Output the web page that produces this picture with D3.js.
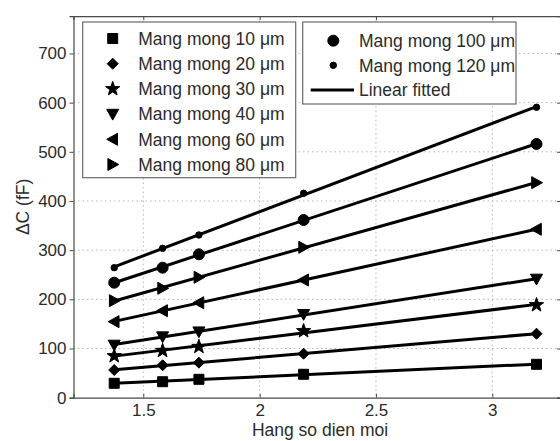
<!DOCTYPE html>
<html>
<head>
<meta charset="utf-8">
<script src="https://cdn.jsdelivr.net/npm/d3@7"></script>
<style>
  html, body { margin: 0; padding: 0; background: #fff; }
  svg { display: block; }
  text { font-family: "Liberation Sans", Arial, sans-serif; fill: #2b2b2b; }
</style>
</head>
<body>
<svg id="chart" width="560" height="441"></svg>
<script>
// Dielectric constant of the medium (x) and capacitance change per membrane thickness
const dielectric = [1.375, 1.583, 1.739, 2.189, 3.19];
const seriesNames = ["Mang mong 10 \u03bcm", "Mang mong 20 \u03bcm", "Mang mong 30 \u03bcm",
  "Mang mong 40 \u03bcm", "Mang mong 60 \u03bcm", "Mang mong 80 \u03bcm",
  "Mang mong 100 \u03bcm", "Mang mong 120 \u03bcm"];
const markers = ["square", "diamond", "star", "triDown", "triLeft", "triRight", "circle", "dot"];
const m10  = [29.3, 32.5, 37.4, 47.6, 67.9];
const m20  = [56.3, 65.9, 71.2, 89.5, 130.2];
const m30  = [84.8, 95.6, 103.7, 135.7, 188.5];
const m40  = [107.2, 124.1, 134.2, 169.6, 241.4];
const m60  = [154.6, 176.9, 193.2, 239.4, 342.5];
const m80  = [197.3, 222.5, 244.9, 305.9, 437.3];
const m100 = [233.9, 264.4, 291.6, 361.4, 516.0];
const m120 = [264.4, 303.8, 330.9, 415.7, 590.6];
const seriesValues = [m10, m20, m30, m40, m60, m80, m100, m120];
const xTicks = [1.5, 2, 2.5, 3];
const yTicks = [0, 100, 200, 300, 400, 500, 600, 700];
const xLabel = "Hang so dien moi";
const yLabel = "\u0394C (fF)";
const fitLabel = "Linear fitted";

const svg = d3.select("#chart");
const x = d3.scaleLinear().domain([1.2, 3.3]).range([73.5, 562.1]);
const y = d3.scaleLinear().domain([0, 776]).range([397.7, 16.1]);
const [x0, x1] = x.range();
const [yb, yt] = y.range();

// marker shapes
function markerPath(type, cx, cy) {
  const p = d3.path();
  if (type === "square") {
    const s = 5; p.rect(cx - s, cy - s, 2 * s, 2 * s);
  } else if (type === "diamond") {
    const s = 5.5; p.moveTo(cx, cy - s); p.lineTo(cx + s, cy); p.lineTo(cx, cy + s); p.lineTo(cx - s, cy); p.closePath();
  } else if (type === "star") {
    const R = 7.5, r = 3;
    for (let i = 0; i < 10; i++) {
      const a = -Math.PI / 2 + i * Math.PI / 5;
      const rr = i % 2 === 0 ? R : r;
      const px = cx + rr * Math.cos(a), py = cy + rr * Math.sin(a);
      i === 0 ? p.moveTo(px, py) : p.lineTo(px, py);
    }
    p.closePath();
  } else if (type === "triDown") {
    const s = 6; p.moveTo(cx - s, cy - s * 0.8); p.lineTo(cx + s, cy - s * 0.8); p.lineTo(cx, cy + s); p.closePath();
  } else if (type === "triLeft") {
    const s = 6; p.moveTo(cx + s * 0.8, cy - s); p.lineTo(cx + s * 0.8, cy + s); p.lineTo(cx - s, cy); p.closePath();
  } else if (type === "triRight") {
    const s = 6; p.moveTo(cx - s * 0.8, cy - s); p.lineTo(cx - s * 0.8, cy + s); p.lineTo(cx + s, cy); p.closePath();
  } else if (type === "circle") {
    p.arc(cx, cy, 5.5, 0, 2 * Math.PI);
  } else if (type === "dot") {
    p.arc(cx, cy, 3.2, 0, 2 * Math.PI);
  }
  return p.toString();
}

// grid
const grid = svg.append("g").attr("stroke", "#b5b5b5").attr("stroke-width", 1).attr("stroke-dasharray", "1.5,3");
grid.selectAll("line.gx").data(xTicks).join("line")
  .attr("x1", d => x(d)).attr("x2", d => x(d)).attr("y1", yt).attr("y2", yb);
grid.selectAll("line.gy").data(yTicks.filter(d => d > 0)).join("line")
  .attr("x1", x0).attr("x2", x1).attr("y1", d => y(d)).attr("y2", d => y(d));

// axes
const axisColor = "#4a4a4a";
const gx = svg.append("g").attr("transform", `translate(0,${yb})`)
  .call(d3.axisBottom(x).tickValues(xTicks).tickSize(-4).tickPadding(6.5).tickFormat(d3.format("")));
const gy = svg.append("g").attr("transform", `translate(${x0},0)`)
  .call(d3.axisLeft(y).tickValues(yTicks).tickSize(4).tickPadding(3));
const gxt = svg.append("g").attr("transform", `translate(0,${yt})`)
  .call(d3.axisTop(x).tickValues(xTicks).tickSize(-4).tickFormat(""));
const gyr = svg.append("g").attr("transform", `translate(${x1},0)`)
  .call(d3.axisRight(y).tickValues(yTicks).tickSize(-5).tickFormat(""));
[gx, gy, gxt, gyr].forEach(g => {
  g.selectAll("path.domain").attr("stroke", axisColor).attr("stroke-width", 1.2);
  g.selectAll(".tick line").attr("stroke", axisColor);
  g.selectAll("text").style("font-size", "17px").attr("fill", "#2b2b2b")
    .style("font-family", "'Liberation Sans', Arial, sans-serif");
});

// axis titles
svg.append("text").attr("x", 320).attr("y", 435.5).attr("text-anchor", "middle")
  .style("font-size", "17.5px").text(xLabel);
svg.append("text").attr("transform", `translate(29,${(yt + yb) / 2}) rotate(-90)`)
  .attr("text-anchor", "middle").style("font-size", "17.5px").text(yLabel);

// fitted lines and markers
const plot = svg.append("g");
seriesValues.forEach((vals, i) => {
  const pts = dielectric.map((d, j) => [d, vals[j]]);
  const xm = d3.mean(dielectric), ym = d3.mean(vals);
  const slope = d3.sum(pts, p => (p[0] - xm) * (p[1] - ym)) / d3.sum(pts, p => (p[0] - xm) ** 2);
  const icpt = ym - slope * xm;
  const xa = d3.min(dielectric), xb = d3.max(dielectric);
  plot.append("line")
    .attr("x1", x(xa)).attr("y1", y(icpt + slope * xa))
    .attr("x2", x(xb)).attr("y2", y(icpt + slope * xb))
    .attr("stroke", "#000").attr("stroke-width", 3);
  plot.selectAll(null).data(pts).join("path")
    .attr("d", p => markerPath(markers[i], x(p[0]), y(p[1])))
    .attr("fill", "#000").attr("stroke", "#000").attr("stroke-width", 1);
});

// legends
const defs = svg.append("defs");
function legendBox(id, bx, by, bw, bh) {
  defs.append("clipPath").attr("id", id).append("rect").attr("x", bx).attr("y", by).attr("width", bw).attr("height", bh);
  const g = svg.append("g");
  g.append("rect").attr("x", bx).attr("y", by).attr("width", bw).attr("height", bh)
    .attr("fill", "#fff").attr("stroke", "#6a6a6a").attr("stroke-width", 1.2);
  return g.append("g").attr("clip-path", `url(#${id})`);
}

const leg1 = legendBox("clipLeg1", 82.7, 22, 213, 155.7);
const leg1Rows = d3.range(6);
leg1Rows.forEach(i => {
  const cy = 38.5 + i * 25.2;
  leg1.append("path").attr("d", markerPath(markers[i], 112.7, cy)).attr("fill", "#000").attr("stroke", "#000");
  leg1.append("text").attr("x", 138.3).attr("y", cy + 6.3).style("font-size", "17.5px").text(seriesNames[i]);
});

const leg2 = legendBox("clipLeg2", 302.7, 22, 213.3, 82);
[6, 7].forEach((si, k) => {
  const cy = 40.7 + k * 24.6;
  leg2.append("path").attr("d", markerPath(markers[si], 333.3, cy)).attr("fill", "#000").attr("stroke", "#000");
  leg2.append("text").attr("x", 359).attr("y", cy + 6.3).style("font-size", "17.5px").text(seriesNames[si]);
});
leg2.append("line").attr("x1", 310.7).attr("x2", 354).attr("y1", 90).attr("y2", 90)
  .attr("stroke", "#000").attr("stroke-width", 3);
leg2.append("text").attr("x", 359).attr("y", 96.3).style("font-size", "17.5px").text(fitLabel);
</script>
</body>
</html>
